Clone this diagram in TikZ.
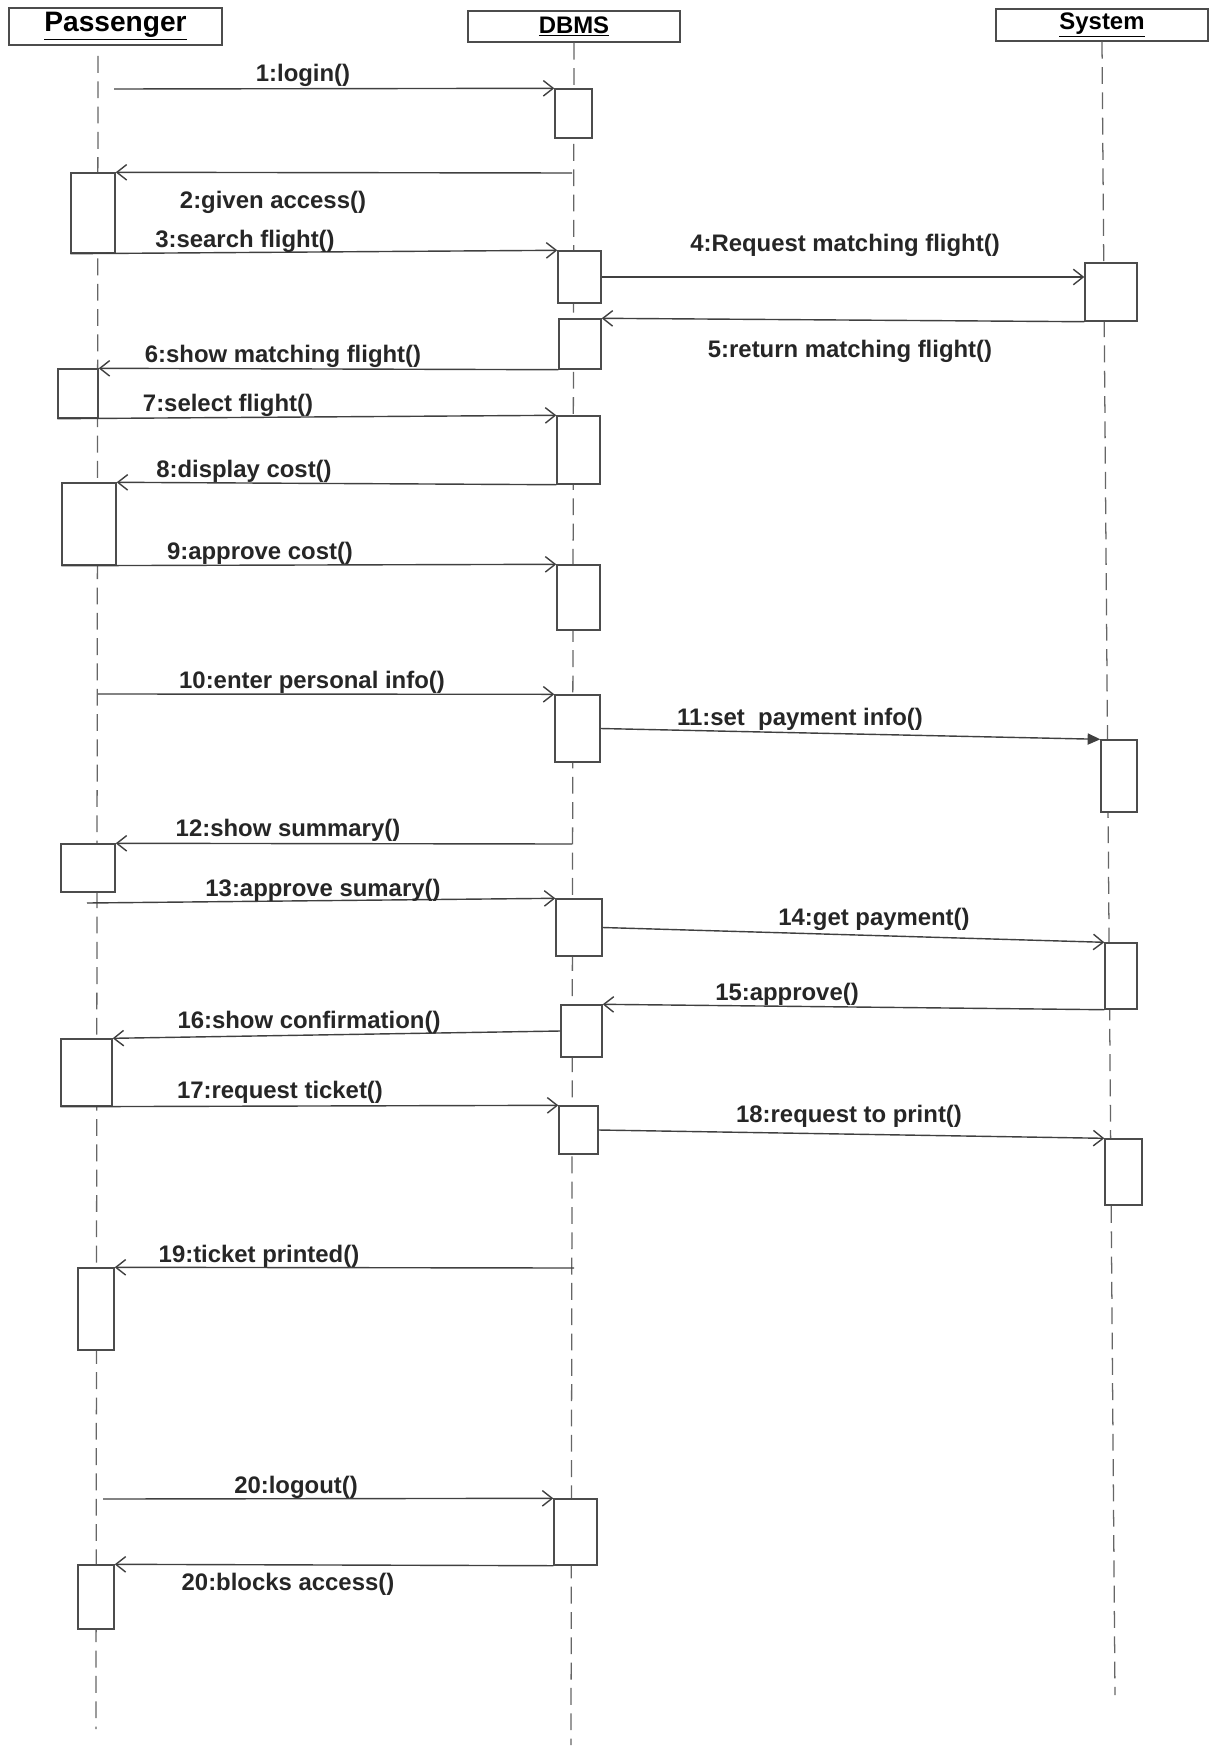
\documentclass[tikz,border=0pt]{standalone}
\usepackage{fontspec}
\setmainfont{Liberation Sans}
\usepackage{tikz}
\usetikzlibrary{arrows.meta,fit}
\tikzset{obj/.style={draw=black!70,fill=white,line width=1pt,inner sep=0pt,font=\bfseries\fontsize{17}{20}\selectfont},
act/.style={draw=black!70,fill=white,line width=1pt,inner sep=0pt},
life/.style={draw=black!60,line width=0.9pt,dash pattern=on 12pt off 6pt},
msg/.style={draw=black!75,line width=1pt,-{Straight Barb[length=7pt,width=11pt]}},
msgf/.style={draw=black!75,line width=1pt,-{Triangle[length=9pt,width=8pt]}},
lbl/.style={font=\bfseries\fontsize{17}{20}\selectfont,text=black!85,inner sep=0pt}}

\begin{document}
\begin{tikzpicture}[x=0.025cm,y=-0.025cm]
        \useasboundingbox (0,0) rectangle (1220,1748);
        \node[obj,font=\bfseries\fontsize{20}{24}\selectfont,minimum width=5.325cm,minimum height=0.925cm] (hp) at (115.5,26.5) {\underline{Passenger}};
        \node[obj,minimum width=5.3cm,minimum height=0.775cm] (hd) at (574,26.5) {\underline{DBMS}};
        \node[obj,minimum width=5.3cm,minimum height=0.8cm] (hs) at (1102,25) {\underline{System}};

        \coordinate (pt) at (98,56);
        \coordinate (pb) at (96,1729);
        \coordinate (db) at (571,1745);
        \coordinate (sb) at (1115,1695);
        \draw[life] (pt) -- (pb);
        \draw[life] (hd.south) -- (db);
        \draw[life] (hs.south) -- (sb);

        \node[act,fit={(555,89)(592,138)}] (d1) {};
        \node[act,fit={(71,173)(115,253)}] (p2) {};
        \node[act,fit={(558,251)(601,303)}] (d3) {};
        \node[act,fit={(1085,263)(1137,321)}] (s4) {};
        \node[act,fit={(559,319)(601,369)}] (d5) {};
        \node[act,fit={(58,369)(98,418)}] (p6) {};
        \node[act,fit={(557,416)(600,484)}] (d7) {};
        \node[act,fit={(62,483)(116,565)}] (p8) {};
        \node[act,fit={(557,565)(600,630)}] (d9) {};
        \node[act,fit={(555,695)(600,762)}] (d10) {};
        \node[act,fit={(1101,740)(1137,812)}] (s11) {};
        \node[act,fit={(61,844)(115,892)}] (p12) {};
        \node[act,fit={(556,899)(602,956)}] (d13) {};
        \node[act,fit={(1105,943)(1137,1009)}] (s14) {};
        \node[act,fit={(561,1005)(602,1057)}] (d15) {};
        \node[act,fit={(61,1039)(112,1106)}] (p16) {};
        \node[act,fit={(559,1106)(598,1154)}] (d17) {};
        \node[act,fit={(1105,1139)(1142,1205)}] (s18) {};
        \node[act,fit={(78,1268)(114,1350)}] (p19) {};
        \node[act,fit={(554,1499)(597,1565)}] (d20) {};
        \node[act,fit={(78,1565)(114,1629)}] (p21) {};

        \coordinate (m1) at (114,89);
        \coordinate (m2) at (572,173);
        \coordinate (m10) at (98,694);
        \coordinate (m12) at (572,844);
        \coordinate (m13) at (87,903);
        \coordinate (m19) at (574,1268);
        \coordinate (m20) at (103,1499);

        \draw[msg] (m1) -- (d1.north west);
        \draw[msg] (m2) -- (p2.north east);
        \draw[msg] (p2.south west) -- (d3.north west);
        \draw[msg] (d3.east) -- (s4.west |- d3.east);
        \draw[msg] (s4.south west) -- (d5.north east);
        \draw[msg] (d5.south west) -- (p6.north east);
        \draw[msg] (p6.south west) -- (d7.north west);
        \draw[msg] (d7.south west) -- (p8.north east);
        \draw[msg] (p8.south west) -- (d9.north west);
        \draw[msg] (m10) -- (d10.north west);
        \draw[msgf] (d10.east) -- (s11.north west);
        \draw[msg] (m12) -- (p12.north east);
        \draw[msg] (m13) -- (d13.north west);
        \draw[msg] (d13.east) -- (s14.north west);
        \draw[msg] (s14.south west) -- (d15.north east);
        \draw[msg] (d15.west) -- (p16.north east);
        \draw[msg] (p16.south west) -- (d17.north west);
        \draw[msg] (d17.east) -- (s18.north west);
        \draw[msg] (m19) -- (p19.north east);
        \draw[msg] (m20) -- (d20.north west);
        \draw[msg] (d20.south west) -- (p21.north east);

        \node[lbl] (l1) at (303,75) {1:login()};
        \node[lbl] (l2) at (273,202) {2:given access()};
        \node[lbl] (l3) at (245,241) {3:search flight()};
        \node[lbl] (l4) at (845,245) {4:Request matching flight()};
        \node[lbl] (l5) at (850,351) {5:return matching flight()};
        \node[lbl] (l6) at (283,356) {6:show matching flight()};
        \node[lbl] (l7) at (228,405) {7:select flight()};
        \node[lbl] (l8) at (244,471) {8:display cost()};
        \node[lbl] (l9) at (260,553) {9:approve cost()};
        \node[lbl] (l10) at (312,682) {10:enter personal info()};
        \node[lbl] (l11) at (800,719) {11:set\ \ payment info()};
        \node[lbl] (l12) at (288,830) {12:show summary()};
        \node[lbl] (l13) at (323,890) {13:approve sumary()};
        \node[lbl] (l14) at (874,919) {14:get payment()};
        \node[lbl] (l15) at (787,994) {15:approve()};
        \node[lbl] (l16) at (309,1022) {16:show confirmation()};
        \node[lbl] (l17) at (280,1092) {17:request ticket()};
        \node[lbl] (l18) at (849,1116) {18:request to print()};
        \node[lbl] (l19) at (259,1256) {19:ticket printed()};
        \node[lbl] (l20) at (296,1487) {20:logout()};
        \node[lbl] (l21) at (288,1584) {20:blocks access()};
\end{tikzpicture}
\end{document}
